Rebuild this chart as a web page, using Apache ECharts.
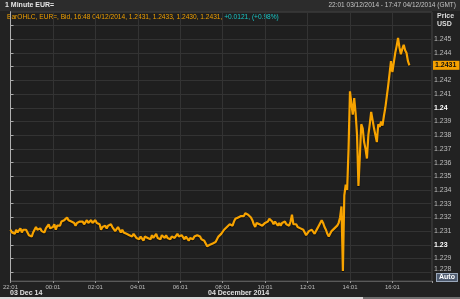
<!DOCTYPE html>
<html><head><meta charset="utf-8">
<script src="https://cdn.jsdelivr.net/npm/echarts@6/dist/echarts.min.js"></script>
<style>html,body{margin:0;padding:0;background:#222222}#c{width:460px;height:299px}</style>
</head><body><div id="c"></div>
<script>
const titleText = '1 Minute EUR=';
const periodText = '22:01 03/12/2014 - 17:47 04/12/2014 (GMT)';
const legendMain = 'BarOHLC, EUR=, Bid, 16:48 04/12/2014, 1.2431, 1.2433, 1.2430, 1.2431, ';
const legendChange = '+0.0121, (+0.98%)';
const xTickLabels = ['22:01','00:01','02:01','04:01','06:01','08:01','10:01','12:01','14:01','16:01'];
const dateLabels = ['03 Dec 14', '04 December 2014'];
const stepMinutes = 4; // minutes between samples, starting 22:01
const prices = [
1.2311,1.2309,1.2310,1.2308,1.2311,1.2309,1.2310,1.2312,1.2309,1.2311,
1.2310,1.2311,1.2309,1.2307,1.2308,1.2306,1.2309,1.2311,1.2313,1.2311,
1.2310,1.2312,1.2310,1.2311,1.2309,1.2312,1.2313,1.2315,1.2312,1.2311,
1.2313,1.2315,1.2311,1.2314,1.2315,1.2314,1.2317,1.2316,1.2318,1.2317,
1.2320,1.2318,1.2319,1.2317,1.2318,1.2316,1.2314,1.2316,1.2315,1.2317,
1.2316,1.2317,1.2315,1.2316,1.2318,1.2316,1.2317,1.2318,1.2316,1.2317,
1.2318,1.2316,1.2317,1.2315,1.2311,1.2313,1.2312,1.2314,1.2312,1.2314,
1.2313,1.2315,1.2313,1.2312,1.2310,1.2311,1.2313,1.2311,1.2309,1.2311,
1.2309,1.2310,1.2308,1.2309,1.2307,1.2308,1.2306,1.2308,1.2307,1.2305,
1.2306,1.2304,1.2306,1.2305,1.2303,1.2306,1.2307,1.2305,1.2306,1.2304,
1.2307,1.2305,1.2306,1.2308,1.2305,1.2306,1.2304,1.2307,1.2306,1.2305,
1.2307,1.2305,1.2306,1.2304,1.2306,1.2307,1.2305,1.2306,1.2308,1.2306,
1.2305,1.2307,1.2306,1.2304,1.2306,1.2305,1.2303,1.2305,1.2306,1.2304,
1.2306,1.2305,1.2307,1.2308,1.2306,1.2304,1.2305,1.2303,1.2301,1.2299,
1.2298,1.2300,1.2299,1.2301,1.2300,1.2302,1.2304,1.2306,1.2305,1.2308,
1.2309,1.2311,1.2310,1.2313,1.2312,1.2315,1.2316,1.2314,1.2317,1.2319,
1.2318,1.2320,1.2319,1.2321,1.2322,1.2321,1.2323,1.2324,1.2322,1.2321,
1.2320,1.2318,1.2315,1.2313,1.2316,1.2317,1.2315,1.2316,1.2314,1.2315,
1.2316,1.2315,1.2317,1.2319,1.2318,1.2317,1.2315,1.2317,1.2316,1.2314,
1.2316,1.2314,1.2316,1.2315,1.2317,1.2315,1.2316,1.2314,1.2317,1.2322,
1.2315,1.2314,1.2315,1.2313,1.2314,1.2312,1.2313,1.2311,1.2309,1.2307,
1.2308,1.2310,1.2309,1.2311,1.2310,1.2308,1.2310,1.2312,1.2314,1.2316,
1.2318,1.2316,1.2313,1.2311,1.2308,1.2306,1.2308,1.2310,1.2309,1.2312,
1.2313,1.2314,1.2316,1.2320,1.2328,1.2281,1.2336,1.2344,1.2340,1.2370,
1.2412,1.2403,1.2395,1.2407,1.2396,1.2380,1.2343,1.2365,1.2388,1.2385,
1.2375,1.2370,1.2363,1.2380,1.2388,1.2397,1.2391,1.2385,1.2380,1.2375,
1.2388,1.2386,1.2390,1.2387,1.2394,1.2400,1.2408,1.2416,1.2425,1.2434,
1.2426,1.2433,1.2440,1.2445,1.2451,1.2444,1.2439,1.2443,1.2446,1.2442,
1.2440,1.2434,1.2431
];
const lastPrice = 1.2431;

const FONT = 'Liberation Sans';
const chart = echarts.init(document.getElementById('c'), null, {renderer: 'canvas'});
const seriesData = prices.map((p, i) => [i * stepMinutes, p]);

chart.setOption({
  animation: false,
  backgroundColor: '#222222',
  textStyle: {fontFamily: FONT},
  grid: {left: 5, right: 28, top: 12, bottom: 18, show: true, backgroundColor: '#1f1f1f', borderColor: '#4a4a4a', borderWidth: 1},
  xAxis: {
    type: 'value', min: 0, max: 1192, interval: 120,
    axisLine: {show: true, lineStyle: {color: '#5a5a5a'}},
    axisTick: {show: true, length: 2, lineStyle: {color: '#999'}},
    splitLine: {show: true, lineStyle: {color: '#333333', width: 1}},
    axisLabel: {
      color: '#bdbdbd', fontSize: 6, fontFamily: FONT, margin: 3,
      formatter: v => xTickLabels[Math.round(v / 120)] || ''
    }
  },
  yAxis: [{
    type: 'value', position: 'right', min: 1.22736, max: 1.24699,
    splitNumber: 20, minInterval: 0.001, maxInterval: 0.001,
    axisLine: {show: true, lineStyle: {color: '#e6e6e6', width: 1}},
    axisTick: {show: true, length: 3, lineStyle: {color: '#aaa'}},
    splitLine: {show: true, lineStyle: {color: '#333333', width: 1}},
    axisLabel: {
      showMinLabel: false, showMaxLabel: false,
      color: '#bdbdbd', fontSize: 7, fontFamily: FONT, margin: 2,
      formatter: v => {
        if (v > 1.2455) return '';
        const s = String(parseFloat(v.toFixed(3)));
        if (v < 1.2285) return '{low|' + s + '}';
        return s.length <= 4 ? '{b|' + s + '}' : s;
      },
      rich: {
        b: {fontWeight: 'bold', color: '#ffffff', fontSize: 7, fontFamily: FONT},
        low: {color: '#bdbdbd', fontSize: 7, fontFamily: FONT, padding: [0, 0, 7, 0]}
      }
    }
  }, {
    type: 'value', position: 'left', min: 1.22736, max: 1.24699,
    axisLine: {show: true, lineStyle: {color: '#b0b0b0'}},
    axisTick: {show: false}, axisLabel: {show: false}, splitLine: {show: false}
  }],
  series: [{
    type: 'line', yAxisIndex: 0, data: seriesData, showSymbol: false, symbol: 'none',
    lineStyle: {color: '#f7a300', width: 2.2, shadowColor: 'rgba(0,0,0,0.6)', shadowBlur: 1, shadowOffsetY: 1},
    markLine: {
      silent: true, symbol: 'none', precision: 4, data: [{yAxis: lastPrice}],
      lineStyle: {color: 'rgba(0,0,0,0)', width: 0, opacity: 1},
      label: {
        show: true, position: 'end', distance: 1, formatter: lastPrice.toFixed(4), opacity: 1,
        backgroundColor: '#f5a000', color: '#111', fontWeight: 'bold', fontSize: 7,
        fontFamily: FONT, padding: [1, 3, 1, 2]
      }
    }
  }],
  graphic: [
    {type: 'rect', left: 0, top: 0, shape: {width: 460, height: 11}, style: {fill: '#2c2c2c'}, z: -1},
    {type: 'text', left: 5, top: 2, style: {text: titleText, fill: '#e6e6e6', font: 'bold 7px ' + FONT}},
    {type: 'text', right: 4, top: 2, style: {text: periodText, fill: '#c4c4c4', font: '6.5px ' + FONT}},
    {type: 'text', left: 7, top: 14, style: {
      text: '{o|' + legendMain + '}{c|' + legendChange + '}',
      rich: {o: {fill: '#f0a000', font: '6.6px ' + FONT}, c: {fill: '#19c7c7', font: '6.6px ' + FONT}}
    }},
    {type: 'text', left: 437, top: 13, style: {text: 'Price', fill: '#dddddd', font: 'bold 7px ' + FONT}},
    {type: 'text', left: 437, top: 21, style: {text: 'USD', fill: '#dddddd', font: 'bold 7px ' + FONT}},
    {type: 'text', left: 436, top: 273, style: {
      text: 'Auto', fill: '#ffffff', font: 'bold 7px ' + FONT,
      backgroundColor: '#4d5a6e', borderColor: '#9aa8bb', borderWidth: 1, padding: [0, 2, 0, 2]
    }},
    {type: 'text', left: 10, top: 290, style: {text: dateLabels[0], fill: '#e0e0e0', font: 'bold 7px ' + FONT}},
    {type: 'text', left: 208, top: 290, style: {text: dateLabels[1], fill: '#e0e0e0', font: 'bold 7px ' + FONT}},
    {type: 'rect', left: 0, top: 297, shape: {width: 363, height: 2}, style: {fill: '#d8d8d8'}},
    {type: 'rect', left: 363, top: 297, shape: {width: 97, height: 2}, style: {fill: '#707070'}}
  ]
});
</script></body></html>
